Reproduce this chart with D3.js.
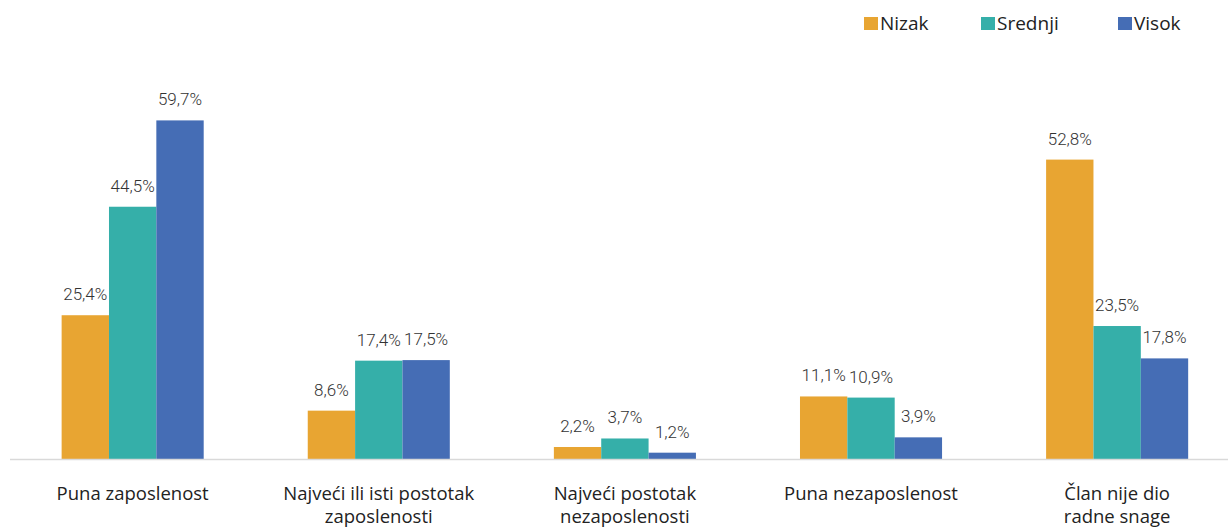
<!DOCTYPE html>
<html>
<head>
<meta charset="utf-8">
<script src="https://cdn.jsdelivr.net/npm/d3@7"></script>
<style>
  body { margin: 0; background: #fff; }
  .val { font-family: Roboto, sans-serif; font-weight: 300; font-size: 17px; fill: #333; }
  .cat { font-family: "Open Sans", sans-serif; font-size: 18.5px; fill: #222; }
  .leg { font-family: "Open Sans", sans-serif; font-size: 19px; fill: #222; }
</style>
</head>
<body>
<svg id="chart" width="1228" height="530" viewBox="0 0 1228 530"></svg>
<script>
const categories = [
  ["Puna zaposlenost"],
  ["Najveći ili isti postotak", "zaposlenosti"],
  ["Najveći postotak", "nezaposlenosti"],
  ["Puna nezaposlenost"],
  ["Član nije dio", "radne snage"]
];
const series = ["Nizak", "Srednji", "Visok"];
const nizak = [25.4, 8.6, 2.2, 11.1, 52.8];
const srednji = [44.5, 17.4, 3.7, 10.9, 23.5];
const visok = [59.7, 17.5, 1.2, 3.9, 17.8];
const colors = ["#E8A532", "#35AFA9", "#456DB5"];

const svg = d3.select("#chart");
const width = 1228;
const baseline = 459.5;

const catKeys = categories.map(c => c.join(" "));
const values = [nizak, srednji, visok];

const x0 = d3.scaleBand()
    .domain(catKeys)
    .range([9.6, 1240.2])
    .paddingInner(0.4228)
    .paddingOuter(0.2114);

const x1 = d3.scaleBand()
    .domain(series)
    .range([0, x0.bandwidth()]);

const y = d3.scaleLinear()
    .domain([0, 60])
    .range([baseline, baseline - 340.8]);

const color = d3.scaleOrdinal().domain(series).range(colors);

// bars
const groups = svg.append("g")
    .selectAll("g")
    .data(catKeys)
    .enter()
    .append("g")
    .attr("transform", d => `translate(${x0(d)},0)`);

groups.selectAll("rect")
    .data((d, i) => series.map((s, j) => ({ s, v: values[j][i] })))
    .enter()
    .append("rect")
    .attr("x", d => x1(d.s))
    .attr("width", x1.bandwidth())
    .attr("y", d => y(d.v))
    .attr("height", d => baseline - y(d.v))
    .attr("fill", d => color(d.s));

groups.selectAll("text")
    .data((d, i) => series.map((s, j) => ({ s, v: values[j][i] })))
    .enter()
    .append("text")
    .attr("class", "val")
    .attr("text-anchor", "middle")
    .attr("x", d => x1(d.s) + x1.bandwidth() / 2)
    .attr("y", d => y(d.v) - 15)
    .text(d => d.v.toFixed(1).replace(".", ",") + "%");

// baseline
svg.append("line")
    .attr("x1", 10).attr("x2", width)
    .attr("y1", baseline).attr("y2", baseline)
    .attr("stroke", "#d9d9d9")
    .attr("stroke-width", 1.5);

// category labels
const catLabels = svg.append("g")
    .selectAll("text")
    .data(categories)
    .enter()
    .append("text")
    .attr("class", "cat")
    .attr("text-anchor", "middle")
    .attr("x", (d, i) => x0(catKeys[i]) + x0.bandwidth() / 2)
    .attr("y", 500);

catLabels.selectAll("tspan")
    .data(d => d)
    .enter()
    .append("tspan")
    .attr("x", function () { return d3.select(this.parentNode).attr("x"); })
    .attr("dy", (d, i) => i === 0 ? 0 : 22.5)
    .text(d => d);

// legend
const legendX = [864, 981, 1118];
const legend = svg.append("g")
    .selectAll("g")
    .data(series)
    .enter()
    .append("g")
    .attr("transform", (d, i) => `translate(${legendX[i]},17)`);

legend.append("rect")
    .attr("width", 14).attr("height", 13)
    .attr("fill", d => color(d));

legend.append("text")
    .attr("class", "leg")
    .attr("x", 16)
    .attr("y", 13)
    .text(d => d);
</script>
</body>
</html>
